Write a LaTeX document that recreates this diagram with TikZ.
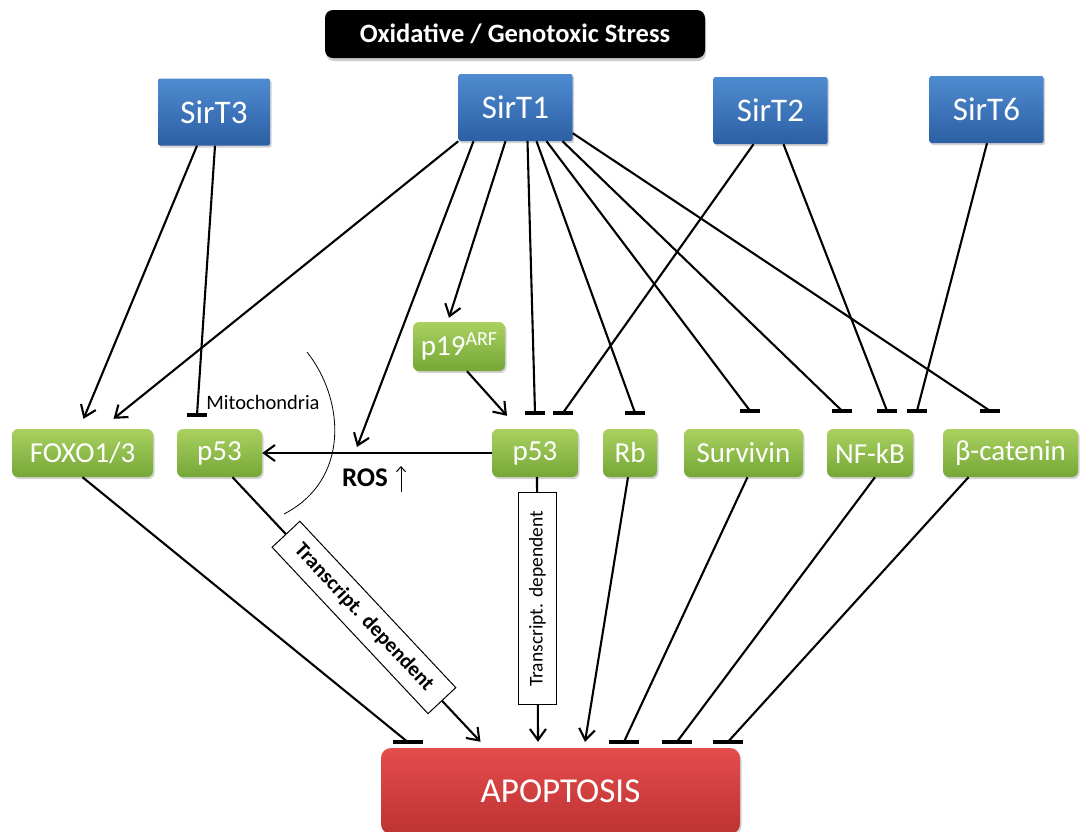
\documentclass[tikz,border=0pt]{standalone}
\usepackage{fontspec}
\setmainfont{Carlito}
\usetikzlibrary{arrows.meta,shadows,calc}
\definecolor{sirttop}{HTML}{4F8BD0}
\definecolor{sirtbot}{HTML}{2C5FA4}
\definecolor{genetop}{HTML}{AAD160}
\definecolor{genebot}{HTML}{74A737}
\definecolor{apoptop}{HTML}{E54C4C}
\definecolor{apopbot}{HTML}{BD3232}
\tikzset{
  sirt/.style={rounded corners=2pt,top color=sirttop,bottom color=sirtbot,text=white,
    minimum width=114pt,minimum height=67pt,font=\fontsize{33}{36}\selectfont,
    drop shadow={shadow xshift=1.5pt,shadow yshift=-2pt,opacity=0.35}},
  gene/.style={rounded corners=6pt,top color=genetop,bottom color=genebot,text=white,
    minimum height=48pt,inner xsep=4pt,font=\fontsize{29}{31}\selectfont,
    drop shadow={shadow xshift=1.5pt,shadow yshift=-2pt,opacity=0.35}},
  stressbox/.style={rounded corners=8pt,fill=black,text=white,minimum width=380pt,
    minimum height=48pt,font=\fontsize{26.5}{28}\selectfont\bfseries,
    drop shadow={shadow xshift=1pt,shadow yshift=-3pt,opacity=0.4}},
  apopbox/.style={rounded corners=10pt,top color=apoptop,bottom color=apopbot,text=white,
    minimum width=359pt,minimum height=86pt,font=\fontsize{35}{38}\selectfont,
    drop shadow={shadow xshift=1.5pt,shadow yshift=-2pt,opacity=0.35}},
  tbox/.style={draw,fill=white,line width=1pt,minimum height=38pt,inner xsep=4pt},
  act/.style={-{Straight Barb[length=11pt,width=16pt]},line width=2.1pt},
  inh/.style={line width=2.1pt},
  hbar/.style={fill=black,inner sep=0pt,minimum width=20pt,minimum height=4pt},
  hbarwide/.style={hbar,minimum width=30pt},
}
\begin{document}
\begin{tikzpicture}[x=1pt,y=-1pt]
  \useasboundingbox[fill=white] (0,0) rectangle (1089,831);
  % top row
  \node[stressbox] (stress) at (515,34) {Oxidative / Genotoxic Stress};
  \node[sirt,minimum width=112pt] (sirt3) at (214,112) {SirT3};
  \node[sirt] (sirt1) at (515.5,107.5) {SirT1};
  \node[sirt] (sirt2) at (770.5,110.5) {SirT2};
  \node[sirt] (sirt6) at (986.5,109.5) {SirT6};
  % targets
  \node[gene,minimum width=92pt,minimum height=49pt,inner xsep=2pt] (p19) at (459,346.5)
    {p19\raisebox{0.32em}{\fontsize{20}{22}\selectfont ARF}};
  \node[gene,minimum width=141pt] (foxo) at (82.5,453) {FOXO1/3};
  \node[gene,minimum width=85pt] (p53l) at (219.5,453) {p53};
  \node[gene,minimum width=86pt] (p53m) at (535,453) {p53};
  \node[gene,minimum width=54pt] (rb) at (630,453) {Rb};
  \node[gene,minimum width=119pt] (surv) at (743.5,453) {Survivin};
  \node[gene,minimum width=86pt] (nfkb) at (870,453) {NF-kB};
  \node[gene,minimum width=135pt] (bcat) at (1010.5,453) {β-catenin};
  \node[apopbox] (apop) at (560.5,791) {APOPTOSIS};
  % labels
  \node[font=\fontsize{20.5}{22}\selectfont] (mito) at (263,402) {Mitochondria};
  \node[font=\fontsize{27}{29}\selectfont\bfseries] (ros) at (365,478) {ROS};
  \coordinate (rosin) at (357,447);
  \coordinate (rosup1) at (401,492);
  \coordinate (rosup2) at (401,466);
  \draw[line width=0.8pt] (307,352) .. controls (345,400) and (350,480) .. (284,514);
  \draw[-{Straight Barb[length=5pt,width=9pt]},line width=1pt] (rosup1) -- (rosup2);
  % SirT3
  \draw[act] ([xshift=-17pt]sirt3.south) -- ([xshift=1pt,yshift=10pt]foxo.north);
  \draw[inh] ([xshift=1pt]sirt3.south) -- ([xshift=-22.5pt,yshift=14pt]p53l.north) node[hbar] {};
  % SirT1
  \draw[act] (sirt1.south west) -- ([xshift=31pt,yshift=10pt]foxo.north);
  \draw[act] ([xshift=-42pt]sirt1.south) -- (rosin);
  \draw[act] ([xshift=-10pt]sirt1.south) -- ([xshift=-10pt,yshift=4pt]p19.north);
  \draw[inh] ([xshift=12pt]sirt1.south) -- ([yshift=16pt]p53m.north) node[hbar] {};
  \draw[inh] ([xshift=21pt]sirt1.south) -- ([xshift=5pt,yshift=16pt]rb.north) node[hbar] {};
  \draw[inh] ([xshift=31pt]sirt1.south) -- ([xshift=6.5pt,yshift=18pt]surv.north) node[hbar] {};
  \draw[inh] ([xshift=47pt]sirt1.south) -- ([xshift=-28pt,yshift=18pt]nfkb.north) node[hbar] {};
  \draw[inh] ([yshift=8pt]sirt1.south east) -- ([xshift=-20.5pt,yshift=18pt]bcat.north) node[hbar] {};
  % SirT2 and SirT6
  \draw[inh] ([xshift=-17pt]sirt2.south) -- ([xshift=28pt,yshift=16pt]p53m.north) node[hbar] {};
  \draw[inh] ([xshift=13pt]sirt2.south) -- ([xshift=17pt,yshift=18pt]nfkb.north) node[hbar] {};
  \draw[inh] ([xshift=0.5pt]sirt6.south) -- ([xshift=47pt,yshift=18pt]nfkb.north) node[hbar] {};
  % p19 and p53
  \draw[act] ([xshift=8pt]p19.south) -- ([xshift=-28pt,yshift=13pt]p53m.north);
  \draw[act] (p53m.west) -- (p53l.east);
  % towards apoptosis
  \draw[inh] (foxo.south) -- ([xshift=-153pt,yshift=6pt]apop.north) node[hbarwide] {};
  \draw[act] ([xshift=13pt]p53l.south) -- node[tbox,sloped,pos=0.53,minimum width=228pt,
    font=\fontsize{21}{23}\selectfont\bfseries] (tdiag) {Transcript. dependent}
    ([xshift=-80pt,yshift=6pt]apop.north);
  \draw[act] ([xshift=2pt]p53m.south) -- node[tbox,rotate=90,pos=0.46,minimum width=212pt,
    font=\fontsize{19.5}{21}\selectfont] (tvert) {Transcript. dependent}
    ([xshift=-22.5pt,yshift=6pt]apop.north);
  \draw[act] ([xshift=-2pt]rb.south) -- ([xshift=24.5pt,yshift=6pt]apop.north);
  \draw[inh] ([xshift=4pt]surv.south) -- ([xshift=63.5pt,yshift=6pt]apop.north) node[hbarwide] {};
  \draw[inh] ([xshift=5pt]nfkb.south) -- ([xshift=116.5pt,yshift=6pt]apop.north) node[hbarwide] {};
  \draw[inh] ([xshift=-42pt]bcat.south) -- ([xshift=167.5pt,yshift=6pt]apop.north) node[hbarwide] {};
\end{tikzpicture}
\end{document}
